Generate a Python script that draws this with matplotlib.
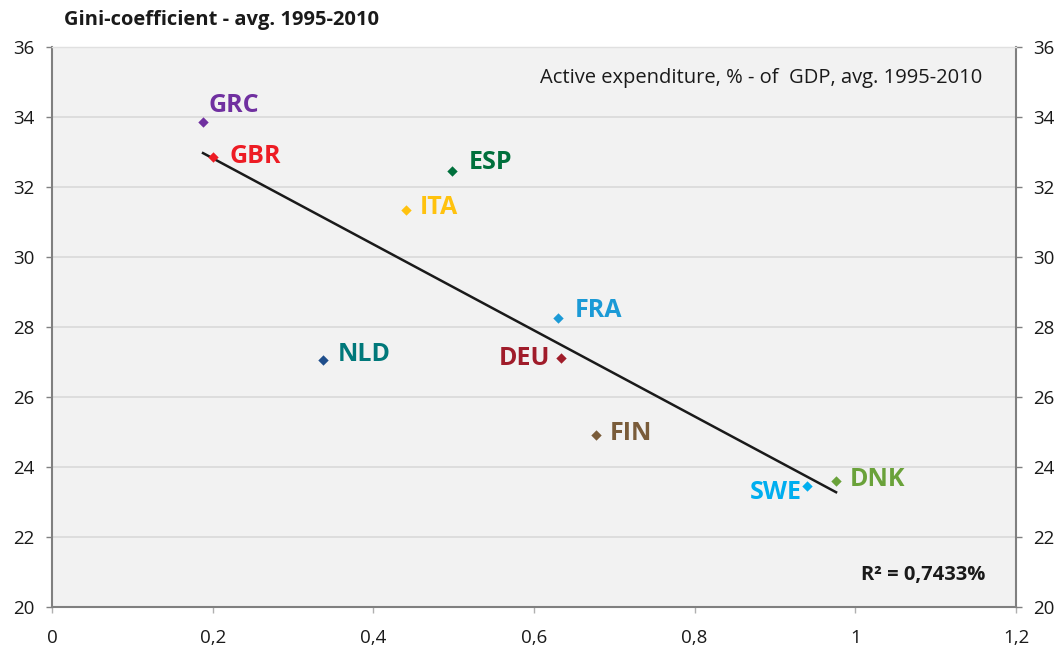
import numpy as np
import matplotlib
matplotlib.use("Agg")
import matplotlib.pyplot as plt
from matplotlib.ticker import FuncFormatter

plt.rcParams['font.family'] = ['Open Sans', 'DejaVu Sans']

countries = ["GRC", "GBR", "ESP", "ITA", "FRA", "NLD", "DEU", "FIN", "SWE", "DNK"]
active_exp = [0.188, 0.200, 0.498, 0.441, 0.630, 0.337, 0.634, 0.677, 0.940, 0.976]
gini = [33.86, 32.86, 32.46, 31.34, 28.26, 27.06, 27.11, 24.91, 23.46, 23.60]
marker_colors = ["#7030a0", "#ed1c24", "#00703c", "#ffc20e", "#1b9ad6",
                 "#1f4e8c", "#a01c2a", "#7a5c3a", "#00aeef", "#6aa23a"]
label_colors = ["#7030a0", "#ed1c24", "#00703c", "#ffc20e", "#1b9ad6",
                "#00787a", "#a01c2a", "#7a5c3a", "#00aeef", "#6aa23a"]
# label offsets in points and horizontal alignment
label_offsets = [(4, 12), (12, 0), (12, 6), (10, 2), (12, 5),
                 (11, 4), (-8, 0), (10, 1), (-4, -5), (10, 1)]
label_ha = ["left", "left", "left", "left", "left",
            "left", "right", "left", "right", "left"]

xticks = [0, 0.2, 0.4, 0.6, 0.8, 1.0, 1.2]
yticks = [20, 22, 24, 26, 28, 30, 32, 34, 36]

fig = plt.figure(figsize=(10.61, 6.52), dpi=100)
ax = fig.add_axes([52/1061, 45/652, (1016-52)/1061, (607-47)/652])
ax.set_facecolor("#f2f2f2")
ax.set_xlim(0, 1.2)
ax.set_ylim(20, 36)

ax.set_yticks(yticks)
ax.set_xticks(xticks)
ax.grid(axis='y', color="#d9d9d9", linewidth=1.2, zorder=0)
ax.set_axisbelow(True)

fmt = FuncFormatter(lambda v, p: ("%g" % v).replace(".", ","))
ax.xaxis.set_major_formatter(fmt)

for s in ["left", "right", "bottom"]:
    ax.spines[s].set_color("#808080")
    ax.spines[s].set_linewidth(1.5)
ax.spines["top"].set_color("#e0e0e0")
ax.spines["top"].set_linewidth(1.0)

ax.tick_params(axis='y', which='both', left=True, right=True, labelleft=True,
               labelright=True, direction='out', length=4, width=1,
               color="#808080", labelsize=13.5, pad=8.5, labelcolor="#1a1a1a")
ax.tick_params(axis='x', direction='out', length=4, width=1, color="#b0b0b0",
               labelsize=13.5, pad=12, labelcolor="#1a1a1a")

# trend line
x = np.array(active_exp)
y = np.array(gini)
slope, intercept = np.polyfit(x, y, 1)
xl = np.array([x.min(), x.max()])
ax.plot(xl, slope * xl + intercept, color="#1a1a1a", linewidth=1.8, zorder=3)

for i, c in enumerate(countries):
    ax.scatter(active_exp[i], gini[i], marker='D', s=28, color=marker_colors[i],
               zorder=4, linewidths=0)
    ax.annotate(c, (active_exp[i], gini[i]), xytext=label_offsets[i],
                textcoords='offset points', ha=label_ha[i], va='center',
                fontsize=18, fontweight='bold', color=label_colors[i], zorder=5)

fig.text(64/1061, 1 - 20/652, "Gini-coefficient - avg. 1995-2010", fontsize=14.5,
         fontweight='bold', color="#1a1a1a", ha='left', va='center')
ax.text(0.965, 0.945, "Active expenditure, % - of  GDP, avg. 1995-2010",
        transform=ax.transAxes, fontsize=14.5, color="#1a1a1a", ha='right', va='center')
ax.text(0.9685, 0.057, "R² = 0,7433%", transform=ax.transAxes, fontsize=14.5,
        fontweight='bold', color="#1a1a1a", ha='right', va='center')

fig.savefig("out.png", dpi=100, facecolor="white")
